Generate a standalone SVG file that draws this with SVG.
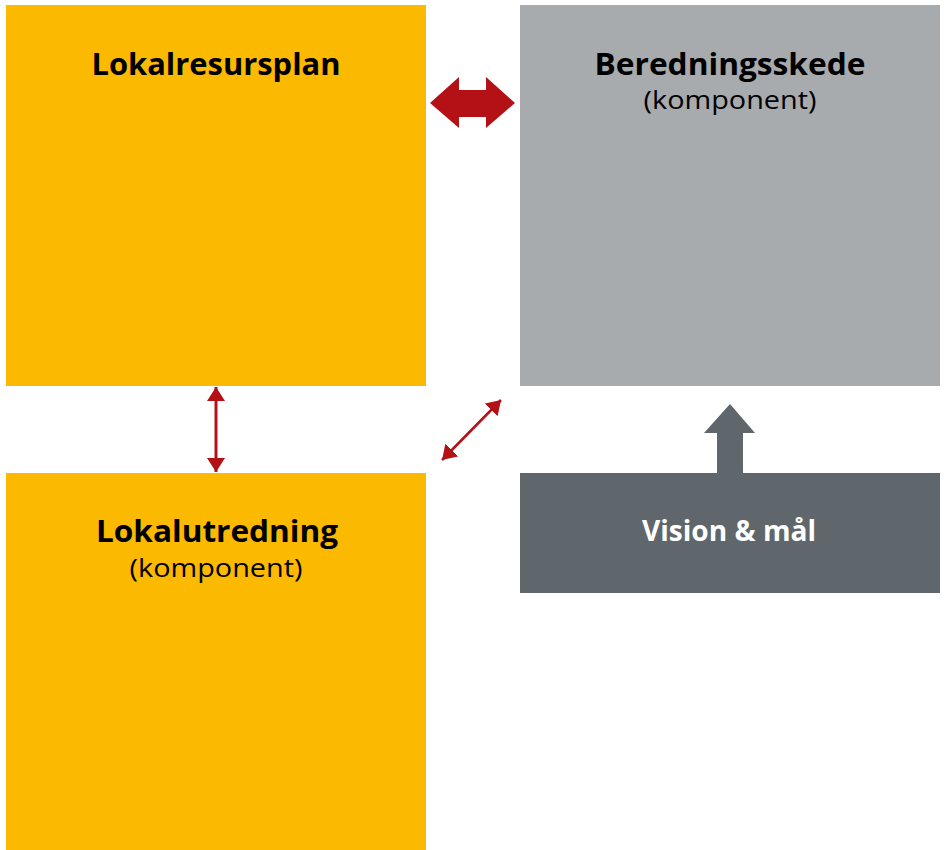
<svg xmlns="http://www.w3.org/2000/svg" width="946" height="850" viewBox="0 0 946 850">
<style>
.t{font-family:"Open Sans","Liberation Sans",sans-serif;text-anchor:middle}
.b{font-weight:bold;font-size:31px}
.r{font-weight:normal;font-size:26px}
.yel{fill:#FBB900}
.gry{fill:#A7ABAE}
.dk{fill:#5F666C}
.red{fill:#B31116}
</style>
<defs>
<marker id="ah" viewBox="0 0 14 18" refX="14" refY="9" markerWidth="14" markerHeight="18" markerUnits="userSpaceOnUse" orient="auto-start-reverse">
<path d="M0,0 L14,9 L0,18 Z" fill="#B31116"/>
</marker>
</defs>
<rect width="946" height="850" fill="#fff"/>
<g id="lokalresursplan">
<rect class="yel" x="6" y="5" width="420" height="381"/>
<text class="t b" x="216" y="75" textLength="249" lengthAdjust="spacingAndGlyphs">Lokalresursplan</text>
</g>
<g id="beredningsskede">
<rect class="gry" x="520" y="5" width="420" height="381"/>
<text class="t b" x="730" y="75" textLength="271" lengthAdjust="spacingAndGlyphs">Beredningsskede</text>
<text class="t r" x="730" y="109" textLength="173" lengthAdjust="spacingAndGlyphs">(komponent)</text>
</g>
<g id="lokalutredning">
<rect class="yel" x="6" y="473" width="420" height="377"/>
<text class="t b" x="217" y="542" textLength="242" lengthAdjust="spacingAndGlyphs">Lokalutredning</text>
<text class="t r" x="216" y="577" textLength="173" lengthAdjust="spacingAndGlyphs">(komponent)</text>
</g>
<g id="vision">
<rect class="dk" x="520" y="473" width="420" height="120"/>
<text class="t b" x="729" y="541" fill="#fff" style="font-size:29px" textLength="174" lengthAdjust="spacingAndGlyphs">Vision &amp; mål</text>
</g>
<g id="connectors">
<path class="red" d="M430,103 L459,77 L459,90 L486,90 L486,77 L515,103 L486,128 L486,117 L459,117 L459,128 Z"/>
<line x1="216" y1="387" x2="216" y2="472" stroke="#B31116" stroke-width="3" marker-start="url(#ah)" marker-end="url(#ah)"/>
<line x1="442" y1="460" x2="501" y2="400" stroke="#B31116" stroke-width="2.5" marker-start="url(#ah)" marker-end="url(#ah)"/>
<path class="dk" d="M730,404 L755,433 L743,433 L743,473 L717,473 L717,433 L704,433 Z"/>
</g>
</svg>
